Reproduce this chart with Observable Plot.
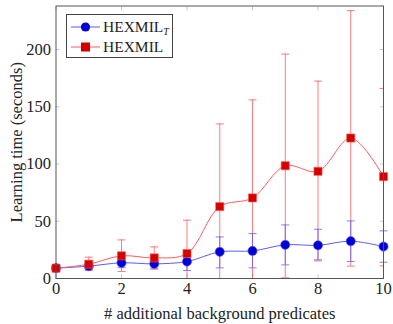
<!DOCTYPE html>
<html>
<head>
<meta charset="utf-8">
<script src="https://cdn.jsdelivr.net/npm/d3@7"></script>
<script src="https://cdn.jsdelivr.net/npm/@observablehq/plot@0.6"></script>
<style>
  html, body { margin: 0; padding: 0; background: #fff; }
  #wrap { position: relative; width: 393px; height: 324px; font-family: "Liberation Serif", "DejaVu Serif", serif; }
  #legend { position: absolute; left: 66px; top: 14px; width: 107px; height: 44px; border: 1px solid #444; background: #fff; box-sizing: border-box; font-size: 15.5px; color: #222; }
  .row { position: absolute; left: 0; height: 20px; display: flex; align-items: center; }
  .row svg { margin-left: 4px; }
  .row span { margin-left: 3px; white-space: nowrap; }
  sub { font-style: italic; font-size: 10px; vertical-align: -3px; }
</style>
</head>
<body>
<div id="wrap"></div>
<script>
const xs = [0, 1, 2, 3, 4, 5, 6, 7, 8, 9, 10];
const hexTMean = [9, 10.8, 13.7, 12.8, 14.8, 23.3, 24.1, 29.4, 29, 32.6, 27.9];
const hexTLow  = [8, 8, 9.5, 9, 7, 9.3, 9.3, 11.9, 16.3, 14.8, 14.2];
const hexTHigh = [10, 13.5, 17, 16, 22, 36.3, 39.2, 46.8, 43, 50.3, 41.6];
const hexMean = [9, 12.5, 19.8, 18, 21.8, 62.8, 70.4, 98.5, 93.6, 122.7, 89];
const hexLow  = [8, 7, 6.1, 8.1, -10, -10, -10, 0.6, 15.4, 10.8, 11];
const hexHigh = [10, 18.6, 33.7, 27.6, 50.9, 135, 156, 196, 172.4, 234, 166];
const xTicks = [0, 2, 4, 6, 8, 10];
const yTicks = [0, 50, 100, 150, 200];
const seriesNames = ["HEXMIL_T", "HEXMIL"];

const blueT = xs.map((x, i) => ({x, y: hexTMean[i], lo: hexTLow[i], hi: hexTHigh[i]}));
const redH = xs.map((x, i) => ({x, y: hexMean[i], lo: hexLow[i], hi: hexHigh[i]}));

const capSymbol = { draw(ctx, size) { const w = 4; ctx.moveTo(-w, 0); ctx.lineTo(w, 0); } };

const BLUE_LINE = "#5b5bff", BLUE_MARK = "#0000d4";
const RED_LINE = "#ff5c5c", RED_MARK = "#d40000";
const RED_ERR = "#ff5050", BLUE_ERR = "#5555ff";

const chart = Plot.plot({
  width: 393,
  height: 324,
  marginLeft: 55.5,
  marginRight: 10,
  marginTop: 5.5,
  marginBottom: 46,
  style: { fontFamily: "Liberation Serif, serif", fontSize: "16px", color: "#222", background: "#fff" },
  x: { domain: [0, 10] },
  y: { domain: [0, 238] },
  marks: [
    Plot.axisX(xTicks, { anchor: "bottom", tickSize: 4, dy: -4, text: null, stroke: "#c8c8c8", label: null }),
    Plot.axisX(xTicks, { anchor: "top", tickSize: 4, dy: 4, text: null, stroke: "#c8c8c8", label: null }),
    Plot.axisY(yTicks, { anchor: "left", tickSize: 4, dx: 4, text: null, stroke: "#c8c8c8", label: null }),
    Plot.axisY(yTicks, { anchor: "right", tickSize: 4, dx: -4, text: null, stroke: "#c8c8c8", label: null }),
    Plot.axisX(xTicks, { anchor: "bottom", tickSize: 0, tickPadding: 4, fontSize: 16.5, label: "# additional background predicates", labelAnchor: "center", labelArrow: "none", labelOffset: 40 }),
    Plot.axisY(yTicks, { anchor: "left", tickSize: 0, tickPadding: 5, fontSize: 16.5, label: "Learning time (seconds)", labelAnchor: "center", labelArrow: "none", labelOffset: 46 }),
    Plot.ruleX(redH, { x: "x", y1: "lo", y2: "hi", stroke: RED_ERR, strokeOpacity: 0.75, strokeWidth: 1, clip: true }),
    Plot.dot(redH, { x: "x", y: "hi", symbol: capSymbol, stroke: RED_ERR, strokeOpacity: 0.75, fill: "none", strokeWidth: 1, clip: true }),
    Plot.dot(redH.filter(d => d.lo >= 0), { x: "x", y: "lo", symbol: capSymbol, stroke: RED_ERR, strokeOpacity: 0.75, fill: "none", strokeWidth: 1, clip: true }),
    Plot.ruleX(blueT, { x: "x", y1: "lo", y2: "hi", stroke: BLUE_ERR, strokeOpacity: 0.75, strokeWidth: 1 }),
    Plot.dot(blueT, { x: "x", y: "hi", symbol: capSymbol, stroke: BLUE_ERR, strokeOpacity: 0.75, fill: "none", strokeWidth: 1 }),
    Plot.dot(blueT, { x: "x", y: "lo", symbol: capSymbol, stroke: BLUE_ERR, strokeOpacity: 0.75, fill: "none", strokeWidth: 1 }),
    Plot.line(blueT, { x: "x", y: "y", stroke: BLUE_LINE, strokeWidth: 1, curve: "catmull-rom" }),
    Plot.line(redH, { x: "x", y: "y", stroke: RED_LINE, strokeWidth: 1, curve: "catmull-rom" }),
    Plot.dot(blueT, { x: "x", y: "y", r: 4.6, fill: BLUE_MARK, stroke: BLUE_LINE, strokeWidth: 0.6 }),
    Plot.dot(redH, { x: "x", y: "y", symbol: "square", r: 4.6, fill: RED_MARK, stroke: RED_LINE, strokeWidth: 0.6 }),
    Plot.frame({ stroke: "#555", strokeWidth: 1 })
  ]
});

const wrap = document.getElementById("wrap");
wrap.appendChild(chart);

const legend = document.createElement("div");
legend.id = "legend";
const entries = [
  { name: seriesNames[0], line: BLUE_LINE, mark: BLUE_MARK, shape: "circle", top: 2 },
  { name: seriesNames[1], line: RED_LINE, mark: RED_MARK, shape: "square", top: 22 }
];
for (const e of entries) {
  const row = document.createElement("div");
  row.className = "row";
  row.style.top = e.top + "px";
  const m = e.shape === "circle"
    ? `<circle cx="14.5" cy="7" r="4.6" fill="${e.mark}"/>`
    : `<rect x="10" y="2.5" width="9" height="9" fill="${e.mark}"/>`;
  row.innerHTML = `<svg width="29" height="14"><line x1="0" y1="7" x2="29" y2="7" stroke="${e.line}" stroke-width="1"/>${m}</svg>`;
  const span = document.createElement("span");
  const parts = e.name.split("_");
  span.textContent = parts[0];
  if (parts[1]) { const sub = document.createElement("sub"); sub.textContent = parts[1]; span.appendChild(sub); }
  row.appendChild(span);
  legend.appendChild(row);
}
wrap.appendChild(legend);
</script>
</body>
</html>
